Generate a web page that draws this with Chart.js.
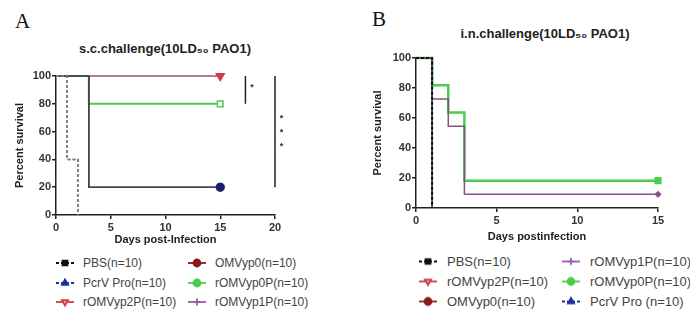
<!DOCTYPE html>
<html>
<head>
<meta charset="utf-8">
<script src="https://cdn.jsdelivr.net/npm/chart.js@4"></script>
<style>
  body { margin: 0; background: #fff; width: 690px; height: 316px; overflow: hidden; position: relative;
         font-family: "Liberation Sans", Arial, sans-serif; }
  .panel { position: absolute; top: 0; width: 345px; height: 250px; }
  .letter { position: absolute; font-family: "Liberation Serif", "Times New Roman", serif; font-size: 21px; color: #111; }
  .title { position: absolute; font-weight: bold; font-size: 13px; color: #222; white-space: nowrap; transform: translate(-50%, -50%); }
  .item { position: absolute; white-space: nowrap; color: #444; transform: translateY(-50%); display: flex; align-items: center; }
  .item canvas { display: block; }
</style>
</head>
<body>

<div class="letter" style="left:15px;top:9px;">A</div>
<div class="letter" style="left:372px;top:7px;">B</div>
<div class="title" style="left:165px;top:48px;">s.c.challenge(10LD₅₀ PAO1)</div>
<div class="title" style="left:545px;top:33px;">i.n.challenge(10LD₅₀ PAO1)</div>

<div class="panel" style="left:0;"><canvas id="chartA" width="345" height="250"></canvas></div>
<div class="panel" style="left:345px;"><canvas id="chartB" width="345" height="250"></canvas></div>
<div id="legendA"></div>
<div id="legendB"></div>

<script>
// ---- panel A: s.c. challenge ----
const A_PBS_days = [0, 1, 2];
const A_PBS_surv = [100, 40, 0];
const A_PcrV_days = [0, 1, 2];
const A_PcrV_surv = [100, 40, 0];
const A_p2P_days = [0, 15];
const A_p2P_surv = [100, 100];
const A_p0_days = [0, 3, 15];
const A_p0_surv = [100, 20, 20];
const A_p0P_days = [0, 3, 15];
const A_p0P_surv = [100, 80, 80];
const A_p1P_days = [0, 3, 15];
const A_p1P_surv = [100, 20, 20];

// significance brackets (day, from, to) and star marks
const A_bracket1 = [17.3, 80, 100];
const A_bracket2 = [20, 20, 100];
const A_star_days = [17.9, 20.6, 20.6, 20.6];
const A_star_surv = [93, 71, 61, 51];

// ---- panel B: i.n. challenge ----
const B_PBS_days = [0, 1];
const B_PBS_surv = [100, 0];
const B_p2P_days = [0, 1];
const B_p2P_surv = [100, 0];
const B_p0_days = [0, 1];
const B_p0_surv = [100, 0];
const B_p1P_days = [0, 1, 2, 3, 15];
const B_p1P_surv = [100, 72.7, 54.5, 9.1, 9.1];
const B_p0P_days = [0, 1, 2, 3, 15];
const B_p0P_surv = [100, 81.8, 63.6, 18.2, 18.2];
const B_PcrV_days = [0, 1];
const B_PcrV_surv = [100, 0];

const xTicksA = [0, 5, 10, 15, 20];
const xTicksB = [0, 5, 10, 15];
const yTicks = [0, 20, 40, 60, 80, 100];

function pts(days, surv) {
  return days.map((d, i) => ({ x: d, y: surv[i] }));
}

function series(label, days, surv, s) {
  const last = days.length - 1;
  const showEnd = days[last] === 15;
  return {
    label: label,
    data: pts(days, surv),
    stepped: true,
    borderColor: s.color,
    borderWidth: s.width || 1.5,
    borderDash: s.dash || [],
    pointStyle: s.point,
    pointRotation: s.rot || 0,
    pointBackgroundColor: s.fill || s.color,
    pointBorderColor: s.pcolor || s.color,
    pointBorderWidth: 1.5,
    pointRadius: ctx => (showEnd && ctx.dataIndex === last) ? (s.r || 4) : 0,
    pointHoverRadius: 0,
    legendStyle: s.legend,
    clip: false
  };
}

function bracket(b) {
  return {
    label: '',
    data: [{ x: b[0], y: b[1] }, { x: b[0], y: b[2] }],
    borderColor: '#222',
    borderWidth: 1.5,
    pointRadius: 0,
    clip: false
  };
}

const starPlugin = {
  id: 'stars',
  afterDatasetsDraw(chart) {
    const g = chart.ctx;
    const xs = chart.scales.x, ys = chart.scales.y;
    g.save();
    g.fillStyle = '#333';
    g.font = 'bold 9px "Liberation Sans", Arial';
    g.textAlign = 'center';
    g.textBaseline = 'middle';
    A_star_days.forEach((d, i) => {
      g.fillText('*', xs.getPixelForValue(d), ys.getPixelForValue(A_star_surv[i]) + 2);
    });
    g.restore();
  }
};

const tickFont = { family: '"Liberation Sans", Arial', size: 11, weight: 'bold' };

function axes(xTicks, xMax, yW, xH, xTitle, xTitlePadB) {
  return {
    x: {
      type: 'linear', min: 0, max: xMax,
      afterBuildTicks: sc => { sc.ticks = xTicks.map(v => ({ value: v })); },
      afterFit: sc => { sc.height = xH; },
      border: { color: '#222', width: 1.5 },
      grid: { drawOnChartArea: false, drawTicks: true, tickLength: 4, color: '#222', lineWidth: 1.5 },
      ticks: { font: tickFont, color: '#333', padding: 2, maxRotation: 0 },
      title: { display: true, text: xTitle, font: tickFont, color: '#222', padding: { top: 0, bottom: xTitlePadB } }
    },
    y: {
      type: 'linear', min: 0, max: 100,
      afterBuildTicks: sc => { sc.ticks = yTicks.map(v => ({ value: v })); },
      afterFit: sc => { sc.width = yW; },
      border: { color: '#222', width: 1.5 },
      grid: { drawOnChartArea: false, drawTicks: true, tickLength: 4, color: '#222', lineWidth: 1.5 },
      ticks: { font: tickFont, color: '#333', padding: 1 },
      title: { display: true, text: 'Percent survival', font: tickFont, color: '#222', padding: { top: 2.4, bottom: 0 } }
    }
  };
}

const red = '#cf3b48', dred = '#8b1a1a', green = '#4ccc4c', purple = '#9a5aa6', blue = '#1d2f9e';

const dsA = [
  series('PBS(n=10)', A_PBS_days, A_PBS_surv, { color: '#777', dash: [3, 2], point: 'rect', legend: { color: '#111', dash: [3, 2], point: 'rect', fill: '#111' } }),
  series('PcrV Pro(n=10)', A_PcrV_days, A_PcrV_surv, { color: '#888', dash: [3, 2], point: 'triangle', legend: { color: blue, dash: [3, 2], point: 'triangle', fill: blue } }),
  series('OMVyp0(n=10)', A_p0_days, A_p0_surv, { color: '#444', point: 'circle', fill: '#1c1c6e', pcolor: '#1c1c6e', r: 3.5, legend: { color: dred, point: 'circle', fill: dred } }),
  series('rOMVyp1P(n=10)', A_p1P_days, A_p1P_surv, { color: '#555', point: 'circle', r: 0, legend: { color: purple, point: 'cross', fill: purple } }),
  series('rOMVyp0P(n=10)', A_p0P_days, A_p0P_surv, { color: green, width: 2, point: 'rect', fill: '#fff', r: 4, legend: { color: green, point: 'circle', fill: green } }),
  series('rOMVyp2P(n=10)', A_p2P_days, A_p2P_surv, { color: '#a0505a', point: 'triangle', rot: 180, fill: red, pcolor: red, r: 4.5, legend: { color: red, point: 'triangle', rot: 180, fill: '#fbb' } }),
  bracket(A_bracket1),
  bracket(A_bracket2)
];

const dsB = [
  series('PBS(n=10)', B_PBS_days, B_PBS_surv, { color: '#111', width: 2, dash: [3, 2], point: 'rect', legend: { color: '#111', dash: [3, 2], point: 'rect', fill: '#111' } }),
  series('PcrV Pro (n=10)', B_PcrV_days, B_PcrV_surv, { color: blue, width: 1.5, dash: [3, 2], point: 'triangle', legend: { color: blue, dash: [3, 2], point: 'triangle', fill: blue } }),
  series('OMVyp0(n=10)', B_p0_days, B_p0_surv, { color: '#555', point: 'circle', legend: { color: dred, point: 'circle', fill: dred } }),
  series('rOMVyp2P(n=10)', B_p2P_days, B_p2P_surv, { color: '#555', point: 'triangle', rot: 180, legend: { color: red, point: 'triangle', rot: 180, fill: '#fbb' } }),
  series('rOMVyp1P(n=10)', B_p1P_days, B_p1P_surv, { color: '#84527f', point: 'rectRot', r: 2.5, legend: { color: purple, point: 'cross', fill: purple } }),
  series('rOMVyp0P(n=10)', B_p0P_days, B_p0P_surv, { color: green, width: 2.5, point: 'rect', r: 4, legend: { color: green, point: 'circle', fill: green } })
];

const common = {
  responsive: false,
  animation: false,
  events: [],
  plugins: { legend: { display: false }, tooltip: { enabled: false }, title: { display: false } }
};

const chartA = new Chart(document.getElementById('chartA'), {
  type: 'line',
  data: { datasets: dsA },
  options: Object.assign({}, common, {
    layout: { padding: { left: 11, right: 70, top: 76, bottom: 0 } },
    scales: axes(xTicksA, 20, 45, 35, 'Days post-Infection', 3.4)
  }),
  plugins: [starPlugin]
});

const chartB = new Chart(document.getElementById('chartB'), {
  type: 'line',
  data: { datasets: dsB },
  options: Object.assign({}, common, {
    layout: { padding: { left: 24, right: 32, top: 58, bottom: 0 } },
    scales: axes(xTicksB, 15, 47, 42, 'Days postinfection', 6.4)
  })
});

// ---- HTML legends built from the datasets ----
function swatch(ls) {
  const c = document.createElement('canvas');
  c.width = 18; c.height = 10;
  const g = c.getContext('2d');
  g.strokeStyle = ls.color;
  g.lineWidth = 1.8;
  g.setLineDash(ls.dash || []);
  g.beginPath(); g.moveTo(0, 5); g.lineTo(18, 5); g.stroke();
  g.setLineDash([]);
  g.fillStyle = ls.fill;
  g.strokeStyle = ls.color;
  if (Chart.helpers && Chart.helpers.drawPoint) {
    Chart.helpers.drawPoint(g, { pointStyle: ls.point, rotation: ls.rot || 0, radius: 3.5, borderWidth: 1.2 }, 9, 5);
  } else {
    g.fillRect(6, 2, 6, 6);
  }
  return c;
}

function legend(hostId, chart, order, pos, fontSize, textGap) {
  const host = document.getElementById(hostId);
  order.forEach((label, i) => {
    const ds = chart.data.datasets.find(d => d.label === label);
    const p = pos[i];
    const item = document.createElement('div');
    item.className = 'item';
    item.style.left = p[0] + 'px';
    item.style.top = p[1] + 'px';
    item.style.fontSize = fontSize + 'px';
    item.appendChild(swatch(ds.legendStyle));
    const t = document.createElement('span');
    t.textContent = label;
    t.style.marginLeft = textGap + 'px';
    item.appendChild(t);
    host.appendChild(item);
  });
}

legend('legendA', chartA,
  ['PBS(n=10)', 'PcrV Pro(n=10)', 'rOMVyp2P(n=10)', 'OMVyp0(n=10)', 'rOMVyp0P(n=10)', 'rOMVyp1P(n=10)'],
  [[56, 263], [56, 283], [56, 302], [188, 263], [188, 283], [188, 302]], 12, 9);

legend('legendB', chartB,
  ['PBS(n=10)', 'rOMVyp2P(n=10)', 'OMVyp0(n=10)', 'rOMVyp1P(n=10)', 'rOMVyp0P(n=10)', 'PcrV Pro (n=10)'],
  [[419, 261], [419, 281], [419, 301], [562, 261], [562, 281], [562, 301]], 13, 10);
</script>
</body>
</html>
